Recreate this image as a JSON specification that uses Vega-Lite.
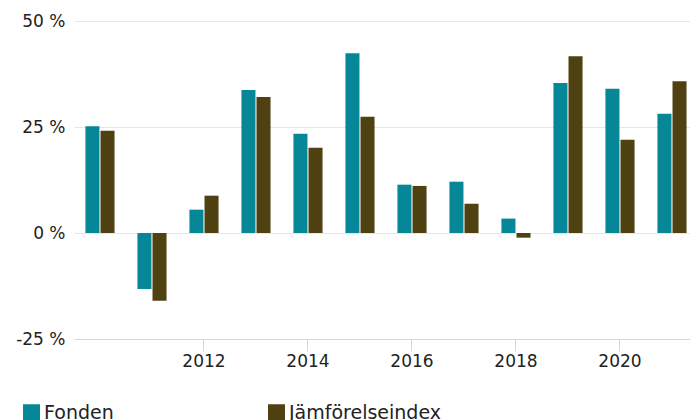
{
  "$schema": "https://vega.github.io/schema/vega-lite/v6.json",
  "width": 616,
  "height": 318,
  "autosize": {"type": "none"},
  "padding": {"left": 74, "top": 21, "right": 0, "bottom": 81},
  "background": "white",
  "data": {
    "values": [
      {"year": "2010", "series": "Fonden", "value": 25.2},
      {"year": "2010", "series": "Jämförelseindex", "value": 24.1},
      {"year": "2011", "series": "Fonden", "value": -13.2},
      {"year": "2011", "series": "Jämförelseindex", "value": -16.0},
      {"year": "2012", "series": "Fonden", "value": 5.5},
      {"year": "2012", "series": "Jämförelseindex", "value": 8.8},
      {"year": "2013", "series": "Fonden", "value": 33.7},
      {"year": "2013", "series": "Jämförelseindex", "value": 32.1},
      {"year": "2014", "series": "Fonden", "value": 23.4},
      {"year": "2014", "series": "Jämförelseindex", "value": 20.1},
      {"year": "2015", "series": "Fonden", "value": 42.4},
      {"year": "2015", "series": "Jämförelseindex", "value": 27.4},
      {"year": "2016", "series": "Fonden", "value": 11.4},
      {"year": "2016", "series": "Jämförelseindex", "value": 11.1},
      {"year": "2017", "series": "Fonden", "value": 12.1},
      {"year": "2017", "series": "Jämförelseindex", "value": 6.9},
      {"year": "2018", "series": "Fonden", "value": 3.4},
      {"year": "2018", "series": "Jämförelseindex", "value": -1.1},
      {"year": "2019", "series": "Fonden", "value": 35.4},
      {"year": "2019", "series": "Jämförelseindex", "value": 41.7},
      {"year": "2020", "series": "Fonden", "value": 34.0},
      {"year": "2020", "series": "Jämförelseindex", "value": 22.0},
      {"year": "2021", "series": "Fonden", "value": 28.1},
      {"year": "2021", "series": "Jämförelseindex", "value": 35.8}
    ]
  },
  "mark": {"type": "bar", "stroke": null},
  "encoding": {
    "x": {
      "field": "year",
      "type": "ordinal",
      "scale": {"paddingInner": 0.44, "paddingOuter": 0.143, "align": 0.768, "round": false},
      "axis": {
        "title": null,
        "values": ["2012", "2014", "2016", "2018", "2020"],
        "labelAngle": 0,
        "domainColor": "#ccd6eb",
        "domainWidth": 1,
        "tickColor": "#ccd6eb",
        "tickSize": 12,
        "labelPadding": 2,
        "labelFont": "DejaVu Sans",
        "labelFontSize": 17,
        "labelColor": "#222222",
        "grid": false
      }
    },
    "xOffset": {
      "field": "series",
      "type": "nominal",
      "scale": {"paddingInner": 0.07}
    },
    "y": {
      "field": "value",
      "type": "quantitative",
      "scale": {"domain": [-25, 50], "nice": false, "zero": false},
      "axis": {
        "title": null,
        "values": [-25, 0, 25, 50],
        "labelExpr": "datum.value + ' %'",
        "domain": false,
        "ticks": false,
        "labelPadding": 9,
        "gridColor": "#e6e6e6",
        "gridWidth": 1,
        "labelFont": "DejaVu Sans",
        "labelFontSize": 17,
        "labelColor": "#222222"
      }
    },
    "color": {
      "field": "series",
      "type": "nominal",
      "scale": {"domain": ["Fonden", "Jämförelseindex"], "range": ["#068797", "#4f4112"]},
      "legend": {
        "title": null,
        "orient": "none",
        "legendX": -52,
        "legendY": 382,
        "direction": "horizontal",
        "columns": 2,
        "columnPadding": 153,
        "symbolType": "square",
        "symbolSize": 289,
        "symbolStrokeWidth": 0,
        "symbolOpacity": 1,
        "labelFont": "DejaVu Sans",
        "labelFontSize": 19,
        "labelColor": "#222222",
        "labelOffset": 3
      }
    }
  },
  "config": {"view": {"stroke": null}}
}
